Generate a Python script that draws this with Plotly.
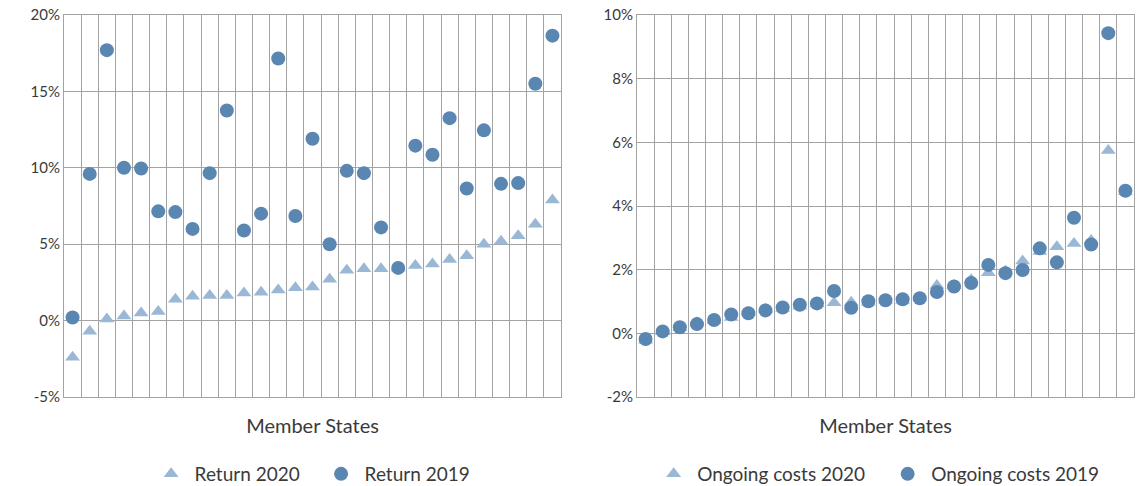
import plotly.graph_objects as go
from plotly.subplots import make_subplots

states = list(range(29))

return_2020 = [-2.4, -0.7, 0.1, 0.3, 0.5, 0.6, 1.4, 1.6, 1.65, 1.65, 1.8, 1.85, 2.0, 2.15, 2.2,
               2.7, 3.3, 3.4, 3.4, 3.45, 3.6, 3.7, 4.0, 4.25, 5.0, 5.2, 5.55, 6.3, 7.9]
return_2019 = [0.2, 9.6, 17.7, 10.0, 9.95, 7.15, 7.1, 6.0, 9.65, 13.75, 5.9, 7.0, 17.15, 6.85, 11.9,
               5.0, 9.8, 9.65, 6.1, 3.45, 11.45, 10.85, 13.25, 8.65, 12.45, 8.95, 9.0, 15.5, 18.65]

costs_2020 = [-0.22, 0.05, 0.18, 0.33, 0.4, 0.5, 0.66, 0.76, 0.78, 0.86, 0.92, 0.96, 0.98, 0.98, 1.04,
              1.03, 1.12, 1.5, 1.5, 1.68, 1.9, 1.95, 2.27, 2.57, 2.72, 2.82, 2.92, 5.74, 4.45]
costs_2019 = [-0.18, 0.06, 0.19, 0.29, 0.42, 0.59, 0.63, 0.72, 0.81, 0.9, 0.94, 1.33, 0.8, 1.01, 1.04,
              1.07, 1.1, 1.3, 1.47, 1.58, 2.15, 1.89, 1.99, 2.67, 2.23, 3.63, 2.79, 9.43, 4.48]

return_ticks = [-5, 0, 5, 10, 15, 20]
cost_ticks = [-2, 0, 2, 4, 6, 8, 10]

light = "#9ab8d6"
dark = "#5a86b2"
grid = "#a3a3a3"
txt = "#3a3a3a"

fig = make_subplots(rows=1, cols=2)

fig.add_trace(go.Scatter(x=states, y=return_2020, mode="markers", name="Return 2020",
                         marker=dict(symbol="triangle-up", size=13, color=light),
                         legend="legend"), row=1, col=1)
fig.add_trace(go.Scatter(x=states, y=return_2019, mode="markers", name="Return 2019",
                         marker=dict(symbol="circle", size=14, color=dark),
                         legend="legend"), row=1, col=1)
fig.add_trace(go.Scatter(x=states, y=costs_2020, mode="markers", name="Ongoing costs 2020",
                         marker=dict(symbol="triangle-up", size=13, color=light),
                         legend="legend2"), row=1, col=2)
fig.add_trace(go.Scatter(x=states, y=costs_2019, mode="markers", name="Ongoing costs 2019",
                         marker=dict(symbol="circle", size=14, color=dark),
                         legend="legend2"), row=1, col=2)

fig.update_xaxes(range=[-0.5, 28.5], tick0=-0.5, dtick=1, showticklabels=False, ticks="",
                 showgrid=True, gridcolor=grid, gridwidth=1, zeroline=False, automargin=False,
                 showline=True, mirror=True, linecolor=grid, linewidth=1,
                 title=dict(text="Member States", font=dict(size=20, color=txt), standoff=21))
fig.update_xaxes(domain=[0, 0.4645], row=1, col=1)
fig.update_xaxes(domain=[0.5355, 1.0], row=1, col=2)

fig.update_yaxes(showgrid=True, gridcolor=grid, gridwidth=1, zeroline=False, automargin=False,
                 showline=True, mirror=True, linecolor=grid, linewidth=1, ticks="",
                 tickfont=dict(size=15, color=txt), domain=[0, 1])
fig.update_yaxes(range=[-5, 20], tickvals=return_ticks,
                 ticktext=[f"{v}%" for v in return_ticks], row=1, col=1)
fig.update_yaxes(range=[-2, 10], tickvals=cost_ticks,
                 ticktext=[f"{v}%" for v in cost_ticks], row=1, col=2)

legend_style = dict(orientation="h", xanchor="center", yanchor="middle",
                    yref="container", y=0.0247,
                    font=dict(size=19, color=txt), itemwidth=37)
fig.update_layout(
    width=1138, height=486,
    margin=dict(l=64, r=4, t=15, b=89),
    paper_bgcolor="white", plot_bgcolor="white",
    font=dict(family="Lato", color=txt),
    legend=dict(x=0.237, entrywidth=118, **legend_style),
    legend2=dict(x=0.7665, entrywidth=182, **legend_style),
)

# drop the default page margin so the figure sits at the window origin
fig.write_html("out.html", config={"displayModeBar": False},
               post_script="document.body.style.margin='0px';")
